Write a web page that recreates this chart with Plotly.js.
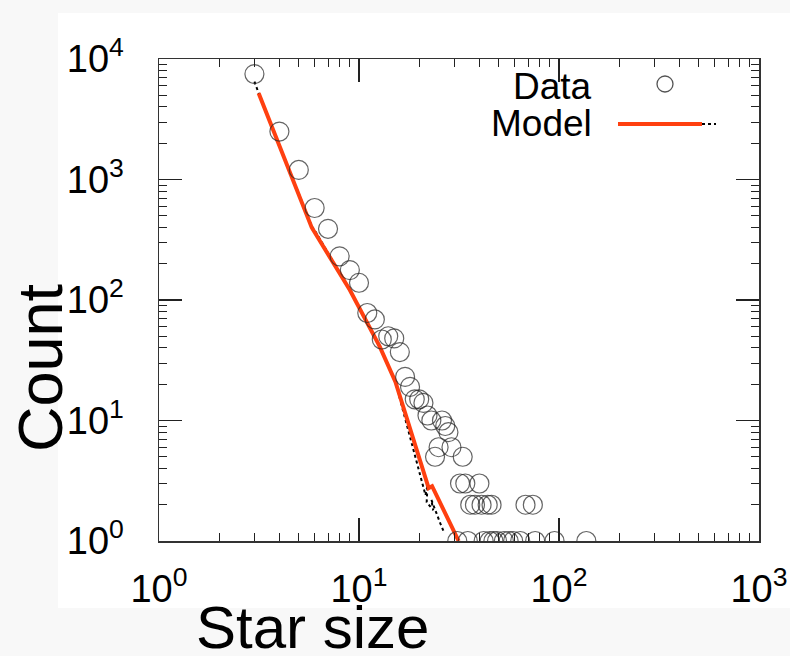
<!DOCTYPE html>
<html>
<head>
<meta charset="utf-8">
<script src="https://cdn.plot.ly/plotly-3.0.1.min.js"></script>
<style>html,body{margin:0;padding:0;background:#f8f8f8;}#chart{width:790px;height:656px;}</style>
</head>
<body>
<div id="chart"></div>
<script>
// Observed data: star size vs count
var dataX = [3,4,5,6,7,8,9,10,11,12,13,14,15,16,17,18,19,20,21,22,23,24,25,26,27,28,29,
             31,32,33,34,35,36,38,40,41,42,44,45,46,47,49,53,56,59,64,68,74,76,95,137];
var dataY = [7500,2500,1200,580,390,230,177,139,78,69,47,50,48,37,23,19,15,15,14,11,10,5,6,10,9,8,6,
             1,3,5,3,1,2,2,3,2,1,2,1,2,1,1,1,1,1,1,2,2,1,1,1];

// Model curve (red) and its dotted black companion
var modelX = [3.15, 5.8, 9.0, 12.7, 15.2, 22.3, 23.2, 31.5];
var modelY = [5200, 400, 121, 41, 21, 2.75, 2.85, 1];
var modelDotX = [3.0, 3.15, 5.8, 6.0, 9.0, 12.7, 15.2, 21.5, 22.0, 21.8, 23.5, 23.0, 25.5, 26.5];
var modelDotY = [6500, 5200, 410, 380, 121, 41, 21, 2.4, 2.9, 2.1, 1.8, 2.2, 1.4, 1.2];

var xTickVals = [1, 10, 100, 1000];
var xTickText = ['10<sup>0</sup>', '10<sup>1</sup>', '10<sup>2</sup>', '10<sup>3</sup>'];
var yTickVals = [1, 10, 100, 1000, 10000];
var yTickText = ['10<sup>0</sup>', '10<sup>1</sup>', '10<sup>2</sup>', '10<sup>3</sup>', '10<sup>4</sup>'];

function minorVals(nDec) {
  var out = [];
  for (var d = 0; d < nDec; d++) for (var k = 2; k <= 9; k++) out.push(k * Math.pow(10, d));
  return out;
}

var L = 159, R = 759, T = 59, B = 541, W = 790, H = 656;
function px(x) { return (x - L) / (R - L); }
function py(y) { return (B - y) / (B - T); }

var traces = [
  { x: modelDotX, y: modelDotY, mode: 'lines', type: 'scatter',
    line: { color: '#000', width: 2, dash: 'dot' }, hoverinfo: 'skip' },
  { x: modelX, y: modelY, mode: 'lines', type: 'scatter',
    line: { color: '#ff4010', width: 4 } },
  { x: dataX, y: dataY, mode: 'markers', type: 'scatter',
    marker: { symbol: 'circle-open', size: 19, color: 'rgba(40,40,40,0.72)', line: { width: 1.2, color: 'rgba(40,40,40,0.72)' } } }
];

var tickFont = { family: 'Liberation Sans Narrow, Arial Narrow, Liberation Sans, Arial, sans-serif', size: 38, color: '#000' };
var axisCommon = {
  type: 'log', showgrid: false, zeroline: false, showline: true, linecolor: '#333', linewidth: 1.5,
  mirror: 'ticks', ticks: 'inside', ticklen: 23, tickwidth: 1.2, tickcolor: '#222',
  tickmode: 'array', tickfont: tickFont, automargin: false
};

var layout = {
  width: W, height: H,
  paper_bgcolor: '#f8f8f8', plot_bgcolor: '#ffffff',
  margin: { l: L, r: W - R, t: T, b: H - B, pad: 0 },
  showlegend: false,
  xaxis: Object.assign({}, axisCommon, {
    range: [0, 3], tickvals: xTickVals, ticktext: xTickText, ticklabelstandoff: 14,
    minor: { tickmode: 'array', tickvals: minorVals(3), ticks: 'inside', ticklen: 8, tickwidth: 1, tickcolor: '#222' }
  }),
  yaxis: Object.assign({}, axisCommon, {
    range: [0, 4], tickvals: yTickVals, ticktext: yTickText, ticklabelstandoff: 26,
    minor: { tickmode: 'array', tickvals: minorVals(4), ticks: 'inside', ticklen: 8, tickwidth: 1, tickcolor: '#222' }
  }),
  shapes: [
    { type: 'rect', xref: 'paper', yref: 'paper', layer: 'below',
      x0: px(58), x1: px(790), y0: py(608), y1: py(13), fillcolor: '#ffffff', line: { width: 0 } },
    { type: 'circle', xref: 'paper', yref: 'paper', xsizemode: 'pixel', ysizemode: 'pixel',
      xanchor: px(665), yanchor: py(84), x0: -8, x1: 8, y0: -8, y1: 8,
      line: { color: 'rgba(40,40,40,0.8)', width: 1.3 } },
    { type: 'line', xref: 'paper', yref: 'paper', x0: px(618), x1: px(716), y0: py(124), y1: py(124),
      line: { color: '#000', width: 2, dash: 'dot' } },
    { type: 'line', xref: 'paper', yref: 'paper', x0: px(618), x1: px(702), y0: py(124), y1: py(124),
      line: { color: '#ff4010', width: 4 } }
  ],
  annotations: [
    { text: 'Data', xref: 'paper', yref: 'paper', x: px(594), y: py(86), xanchor: 'right', yanchor: 'middle',
      showarrow: false, font: { family: 'Liberation Sans, Arial, sans-serif', size: 37, color: '#000' } },
    { text: 'Model', xref: 'paper', yref: 'paper', x: px(594), y: py(124), xanchor: 'right', yanchor: 'middle',
      showarrow: false, font: { family: 'Liberation Sans, Arial, sans-serif', size: 37, color: '#000' } },
    { text: 'Star size', xref: 'paper', yref: 'paper', x: px(312), y: py(627), xanchor: 'center', yanchor: 'middle',
      showarrow: false, font: { family: 'Liberation Sans, Arial, sans-serif', size: 60, color: '#000' } },
    { text: 'Count', xref: 'paper', yref: 'paper', x: px(40), y: py(368), xanchor: 'center', yanchor: 'middle',
      textangle: -90, showarrow: false, font: { family: 'Liberation Sans, Arial, sans-serif', size: 63, color: '#000' } }
  ]
};

Plotly.newPlot('chart', traces, layout, { displayModeBar: false, staticPlot: true });
</script>
</body>
</html>
